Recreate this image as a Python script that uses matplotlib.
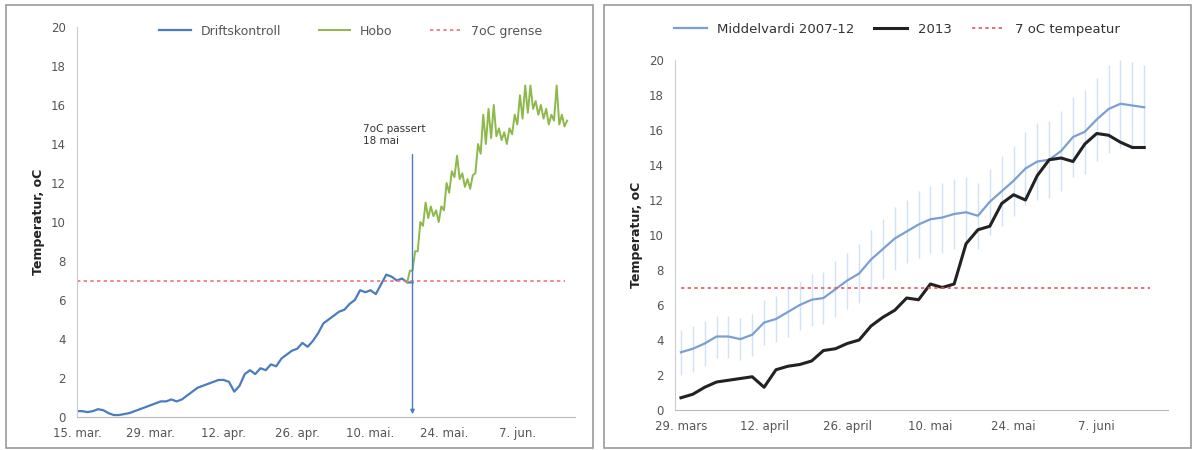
import matplotlib.pyplot as plt
import numpy as np
import pandas as pd

# left panel: daily values
drift_start = "2013-03-15"
drift = [0.3, 0.3, 0.25, 0.3, 0.4, 0.35, 0.2,
         0.1, 0.1, 0.15, 0.2, 0.3, 0.4, 0.5,
         0.6, 0.7, 0.8, 0.8, 0.9, 0.8, 0.9,
         1.1, 1.3, 1.5, 1.6, 1.7, 1.8, 1.9,
         1.9, 1.8, 1.3, 1.6, 2.2, 2.4, 2.2,
         2.5, 2.4, 2.7, 2.6, 3.0, 3.2, 3.4,
         3.5, 3.8, 3.6, 3.9, 4.3, 4.8, 5.0,
         5.2, 5.4, 5.5, 5.8, 6.0, 6.5, 6.4,
         6.5, 6.3, 6.8, 7.3, 7.2, 7.0, 7.1,
         6.9, 6.9]
hobo_start = "2013-05-17"
hobo_low = [6.9, 7.5, 8.5, 9.8, 10.2, 10.3, 10.0, 10.6, 11.5, 12.3, 12.2, 11.8, 11.7, 12.5, 13.5, 14.0,
            14.3, 14.4, 14.2, 14.0, 14.5, 15.0, 15.3, 15.6, 15.8, 15.5, 15.3, 15.0, 15.2, 15.0, 14.9]
hobo_high = [7.5, 8.5, 10.0, 11.0, 10.8, 10.6, 10.8, 12.0, 12.6, 13.4, 12.5, 12.2, 12.4, 14.0, 15.5, 15.8,
             16.0, 14.8, 14.6, 14.8, 15.5, 16.5, 17.0, 17.0, 16.2, 16.0, 15.8, 15.5, 17.0, 15.5, 15.2]

# right panel: every 2 days from 29 March
mid_start = "2013-03-29"
middel = [3.3, 3.5, 3.8, 4.2, 4.2, 4.05, 4.3, 5.0, 5.2, 5.6, 6.0, 6.3, 6.4, 6.9, 7.4, 7.8, 8.6, 9.2, 9.8, 10.2,
          10.6, 10.9, 11.0, 11.2, 11.3, 11.1, 11.9, 12.5, 13.1, 13.8, 14.2, 14.3, 14.8, 15.6, 15.9, 16.6, 17.2, 17.5, 17.4, 17.3]
std = [1.3, 1.3, 1.3, 1.2, 1.2, 1.2, 1.2, 1.3, 1.3, 1.4, 1.4, 1.5, 1.5, 1.6, 1.6, 1.7, 1.7, 1.7, 1.8, 1.8,
       1.9, 1.9, 2.0, 2.0, 2.0, 1.9, 1.9, 2.0, 2.0, 2.1, 2.2, 2.2, 2.3, 2.3, 2.4, 2.4, 2.5, 2.5, 2.5, 2.4]
y2013 = [0.7, 0.9, 1.3, 1.6, 1.7, 1.8, 1.9, 1.3, 2.3, 2.5, 2.6, 2.8, 3.4, 3.5, 3.8, 4.0, 4.8, 5.3, 5.7, 6.4,
         6.3, 7.2, 7.0, 7.2, 9.5, 10.3, 10.5, 11.8, 12.3, 12.0, 13.4, 14.3, 14.4, 14.2, 15.2, 15.8, 15.7, 15.3, 15.0, 15.0]

grey = '#555555'
fig = plt.figure(figsize=(11.97, 4.5), dpi=100)

def style(ax, ticks, labels):
    for s in ['top', 'right']:
        ax.spines[s].set_visible(False)
    ax.spines['left'].set_color('#cccccc')
    ax.spines['bottom'].set_color('#bbbbbb')
    ax.set_ylim(0, 20)
    ax.set_yticks(range(0, 21, 2))
    ax.set_xticks(ticks)
    ax.set_xticklabels(labels)
    ax.tick_params(colors=grey, labelsize=8.5, length=0)
    ax.tick_params(axis='y', pad=8)
    ax.tick_params(axis='x', pad=7)
    ax.set_ylabel('Temperatur, oC', fontsize=9, fontweight='bold', color='#222222')

# frames around panels
fig.add_artist(plt.Rectangle((0.005, 0.005), 0.49, 0.985, transform=fig.transFigure, fill=False, ec='#999999', lw=1.2))
fig.add_artist(plt.Rectangle((0.505, 0.005), 0.49, 0.985, transform=fig.transFigure, fill=False, ec='#999999', lw=1.2))

ax1 = fig.add_axes([77/1197, 33/450, (575-77)/1197, (423-33)/450])
d_dates = pd.date_range(drift_start, periods=len(drift))
h_dates = pd.date_range(hobo_start, periods=len(hobo_low))
h_x = np.ravel(np.column_stack([h_dates, h_dates + pd.Timedelta(hours=12)]))
h_y = np.ravel(np.column_stack([hobo_low, hobo_high]))
ax1.plot(d_dates, drift, color='#4a7cc0', lw=1.6, label='Driftskontroll')
ax1.plot(h_x, h_y, color='#8db84a', lw=1.4, label='Hobo')
ax1.plot(pd.to_datetime(['2013-03-15', '2013-06-16']), [7, 7], color='#f07080', ls=(0, (2, 2)), lw=1.2, label='7oC grense')
t18 = pd.Timestamp('2013-05-18')
ax1.annotate('', xy=(t18, 0), xytext=(t18, 13.6),
             arrowprops=dict(arrowstyle='-|>', color='#4a7cc0', lw=1, mutation_scale=6))
ax1.text(t18 - pd.Timedelta(days=9.5), 14.0, '7oC passert\n18 mai', fontsize=7.5, color='#333333')
t1 = pd.date_range('2013-03-15', periods=7, freq='14D')
style(ax1, t1, ['15. mar.', '29. mar.', '12. apr.', '26. apr.', '10. mai.', '24. mai.', '7. jun.'])
ax1.set_xlim(pd.Timestamp('2013-03-15'), pd.Timestamp('2013-06-18'))
ax1.legend(loc='upper center', bbox_to_anchor=(0.55, 1.035), ncol=3, frameon=False, fontsize=9,
           labelcolor=grey, columnspacing=3, handlelength=2.5)

ax2 = fig.add_axes([675/1197, 40/450, (1168-675)/1197, (390-40)/450])
m_dates = pd.date_range(mid_start, periods=len(middel), freq='2D')
lo = np.array(middel) - np.array(std)
hi = np.array(middel) + np.array(std)
ax2.vlines(m_dates, lo, hi, color='#cfe3f7', lw=1)
ax2.plot(m_dates, middel, color='#7b9fd4', lw=1.6, label='Middelvardi 2007-12')
ax2.plot(m_dates, y2013, color='#222222', lw=2.2, label='2013')
ax2.plot(pd.to_datetime(['2013-03-29', '2013-06-16']), [7, 7], color='#f05060', ls=(0, (2, 2)), lw=1.2, label='7 oC tempeatur')
t2 = pd.date_range('2013-03-29', periods=6, freq='14D')
style(ax2, t2, ['29. mars', '12. april', '26. april', '10. mai', '24. mai', '7. juni'])
ax2.set_xlim(pd.Timestamp('2013-03-28'), pd.Timestamp('2013-06-19'))
ax2.legend(loc='upper center', bbox_to_anchor=(0.45, 1.14), ncol=3, frameon=False, fontsize=9.5,
           labelcolor='#333333', columnspacing=1.5, handlelength=2.5)

fig.savefig('out.png', dpi=100)
